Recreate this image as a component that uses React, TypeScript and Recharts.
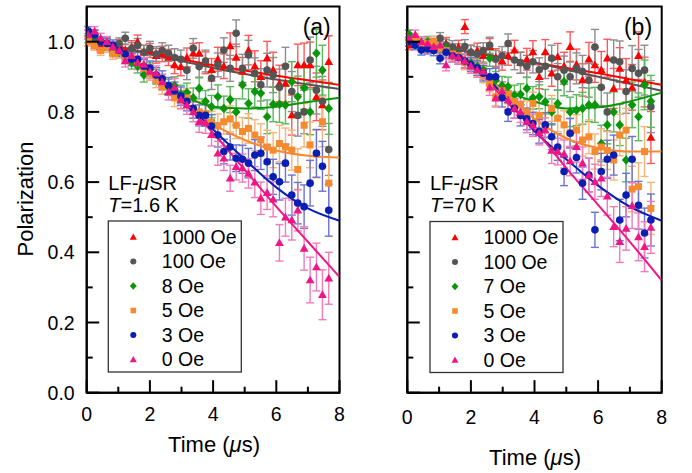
import React from 'react';
import { ComposedChart, Scatter, Line, XAxis, YAxis, ErrorBar, ReferenceArea } from 'recharts';

// time bins (μs), shared by every field in both panels
const times = [0.05, 0.25, 0.44, 0.64, 0.83, 1.03, 1.22, 1.42, 1.61, 1.81, 2.0, 2.2, 2.39, 2.59, 2.78, 2.98, 3.17, 3.37, 3.56, 3.76,
  3.95, 4.15, 4.34, 4.54, 4.73, 4.93, 5.12, 5.32, 5.51, 5.71, 5.9, 6.1, 6.29, 6.49, 6.68, 6.88, 7.07, 7.27, 7.46, 7.66];

const errA = [0.013, 0.013, 0.014, 0.015, 0.015, 0.016, 0.017, 0.018, 0.019, 0.02, 0.02, 0.021, 0.022, 0.023, 0.025, 0.026, 0.027, 0.028, 0.03, 0.031,
  0.032, 0.034, 0.035, 0.037, 0.038, 0.04, 0.042, 0.044, 0.046, 0.048, 0.05, 0.052, 0.054, 0.057, 0.059, 0.062, 0.065, 0.068, 0.071, 0.074];
const errB = [0.013, 0.013, 0.014, 0.015, 0.015, 0.016, 0.017, 0.018, 0.019, 0.02, 0.02, 0.021, 0.022, 0.023, 0.025, 0.026, 0.027, 0.028, 0.03, 0.031,
  0.032, 0.034, 0.035, 0.037, 0.038, 0.04, 0.042, 0.044, 0.046, 0.048, 0.05, 0.052, 0.054, 0.057, 0.059, 0.062, 0.065, 0.068, 0.071, 0.074];

// panel (a), T = 1.6 K
const polA1000 = [1.0, 0.99, 0.985, 0.995, 0.98, 0.99, 0.975, 0.985, 1.0, 0.97, 0.975, 0.96, 0.965, 0.955, 0.934, 0.929, 0.955, 0.967, 0.967, 0.94,
  0.92, 0.95, 0.93, 0.988, 0.955, 0.915, 0.976, 0.93, 0.9, 0.953, 0.92, 0.881, 0.881, 0.791, 0.934, 0.934, 0.934, 0.843, 0.82, 0.943];
const polA100 = [1.02, 1.01, 1.0, 0.995, 0.985, 0.995, 1.01, 0.98, 0.99, 0.97, 0.981, 0.965, 0.975, 0.967, 0.955, 0.95, 0.919, 0.981, 0.929, 0.945,
  0.896, 0.934, 0.976, 0.924, 1.024, 0.924, 0.962, 0.91, 0.877, 0.919, 0.905, 0.87, 0.93, 0.858, 0.79, 0.8, 0.948, 0.862, 0.83, 0.693];
const polA8 = [1.01, 1.02, 1.0, 0.99, 0.975, 0.97, 0.955, 0.94, 0.93, 0.905, 0.92, 0.9, 0.885, 0.87, 0.875, 0.85, 0.855, 0.84, 0.867, 0.83,
  0.815, 0.843, 0.81, 0.835, 0.8, 0.877, 0.824, 0.858, 0.853, 0.786, 0.822, 0.822, 0.82, 0.886, 0.843, 0.869, 0.8, 0.967, 0.919, 0.81];
const polA5 = [1.0, 0.99, 0.975, 0.985, 0.965, 0.97, 0.96, 0.955, 0.94, 0.925, 0.91, 0.89, 0.872, 0.875, 0.84, 0.835, 0.84, 0.81, 0.8, 0.795,
  0.77, 0.76, 0.772, 0.78, 0.762, 0.744, 0.753, 0.734, 0.72, 0.7, 0.691, 0.71, 0.7, 0.691, 0.636, 0.762, 0.706, 0.68, 0.772, 0.597];
const polA3 = [1.03, 1.02, 1.0, 0.995, 0.99, 0.975, 0.965, 0.95, 0.95, 0.93, 0.925, 0.905, 0.895, 0.875, 0.86, 0.845, 0.83, 0.81, 0.79, 0.79,
  0.76, 0.734, 0.687, 0.7, 0.668, 0.665, 0.654, 0.677, 0.682, 0.658, 0.615, 0.601, 0.654, 0.563, 0.54, 0.53, 0.597, 0.682, 0.645, 0.52];
const polA0 = [1.02, 1.03, 1.01, 1.0, 0.985, 0.975, 0.945, 0.96, 0.94, 0.935, 0.915, 0.91, 0.885, 0.857, 0.87, 0.835, 0.82, 0.8, 0.772, 0.77,
  0.735, 0.682, 0.668, 0.611, 0.644, 0.64, 0.625, 0.6, 0.554, 0.57, 0.551, 0.427, 0.5, 0.492, 0.52, 0.411, 0.321, 0.358, 0.279, 0.326];

// panel (b), T = 70 K
const polB1000 = [0.99, 1.0, 0.995, 0.985, 0.99, 0.98, 0.995, 0.975, 0.985, 1.043, 0.97, 0.975, 0.96, 0.986, 0.955, 0.945, 0.96, 0.976, 0.94, 0.95,
  0.971, 0.9, 0.971, 0.91, 0.957, 0.93, 0.986, 0.935, 0.891, 0.95, 0.934, 0.92, 0.953, 0.867, 0.924, 0.89, 0.87, 0.96, 0.885, 0.727];
const polB100 = [1.02, 1.0, 0.995, 0.99, 1.0, 1.01, 0.99, 0.985, 0.975, 0.986, 0.97, 0.965, 0.975, 0.99, 0.95, 0.96, 0.995, 0.948, 0.94, 0.93,
  0.943, 0.92, 0.93, 0.953, 0.9, 0.919, 0.9, 0.924, 0.915, 0.89, 0.985, 0.87, 0.8, 0.948, 0.943, 0.858, 0.924, 0.91, 0.919, 0.815];
const polB7 = [1.02, 1.0, 0.995, 1.0, 0.99, 0.985, 0.98, 0.965, 0.96, 0.945, 0.94, 0.93, 0.92, 0.953, 0.89, 0.875, 0.872, 0.848, 0.85, 0.867,
  0.84, 0.843, 0.829, 0.8, 0.824, 0.886, 0.8, 0.805, 0.81, 0.82, 0.82, 0.71, 0.763, 0.8, 0.763, 0.663, 0.82, 0.786, 0.877, 0.83];
const polB5 = [1.0, 1.01, 0.99, 0.995, 1.0, 0.98, 0.975, 0.965, 0.96, 0.94, 0.935, 0.92, 0.905, 0.88, 0.843, 0.86, 0.85, 0.83, 0.82, 0.8,
  0.824, 0.79, 0.76, 0.81, 0.782, 0.763, 0.74, 0.748, 0.72, 0.729, 0.687, 0.7, 0.69, 0.663, 0.734, 0.748, 0.58, 0.587, 0.687, 0.525];
const polB3 = [1.0, 0.99, 0.976, 0.98, 0.975, 0.953, 0.97, 0.96, 0.955, 0.945, 0.935, 0.925, 0.91, 0.9, 0.9, 0.84, 0.8, 0.81, 0.79, 0.78,
  0.767, 0.745, 0.763, 0.729, 0.7, 0.63, 0.739, 0.67, 0.597, 0.62, 0.464, 0.63, 0.665, 0.677, 0.492, 0.563, 0.665, 0.534, 0.455, 0.492];
const polB0 = [1.01, 1.02, 1.0, 0.995, 0.986, 0.99, 0.934, 0.96, 0.955, 0.945, 0.93, 0.92, 0.915, 0.87, 0.839, 0.86, 0.834, 0.81, 0.8, 0.772,
  0.762, 0.74, 0.748, 0.69, 0.687, 0.68, 0.66, 0.701, 0.654, 0.62, 0.601, 0.611, 0.56, 0.473, 0.43, 0.468, 0.533, 0.444, 0.416, 0.471];

// fitted curves, read at whole microseconds
const fitTimes = [0, 1, 2, 3, 4, 5, 6, 7, 8];
const fitA1000 = [1.0, 0.985, 0.967, 0.95, 0.933, 0.918, 0.903, 0.89, 0.877];
const fitA100 = [1.0, 0.985, 0.965, 0.945, 0.925, 0.908, 0.892, 0.878, 0.865];
const fitA8 = [1.0, 0.97, 0.91, 0.85, 0.815, 0.81, 0.815, 0.828, 0.84];
const fitA5 = [1.0, 0.97, 0.905, 0.83, 0.765, 0.72, 0.69, 0.675, 0.67];
const fitA3 = [1.0, 0.97, 0.91, 0.835, 0.75, 0.665, 0.585, 0.525, 0.49];
const fitA0 = [1.0, 0.97, 0.91, 0.83, 0.74, 0.635, 0.53, 0.43, 0.33];
const fitB1000 = [1.0, 0.985, 0.97, 0.955, 0.94, 0.925, 0.91, 0.893, 0.877];
const fitB100 = [1.0, 0.985, 0.97, 0.955, 0.94, 0.92, 0.9, 0.88, 0.86];
const fitB7 = [1.0, 0.98, 0.93, 0.865, 0.83, 0.81, 0.813, 0.83, 0.855];
const fitB5 = [1.0, 0.985, 0.935, 0.86, 0.78, 0.725, 0.697, 0.687, 0.687];
const fitB3 = [1.0, 0.985, 0.94, 0.85, 0.745, 0.665, 0.59, 0.53, 0.49];
const fitB0 = [1.0, 0.985, 0.94, 0.84, 0.75, 0.64, 0.535, 0.43, 0.32];

const labelsA = ['1000 Oe', '100 Oe', '8 Oe', '5 Oe', '3 Oe', '0 Oe'];
const labelsB = ['1000 Oe', '100 Oe', '7 Oe', '5 Oe', '3 Oe', '0 Oe'];
const xTicks = [0, 1, 2, 3, 4, 5, 6, 7, 8];
const yTicks = [0, 0.1, 0.2, 0.3, 0.4, 0.5, 0.6, 0.7, 0.8, 0.9, 1.0];

type Kind = 'triangle' | 'circle' | 'diamond' | 'square';
const kinds: Kind[] = ['triangle', 'circle', 'diamond', 'square', 'circle', 'triangle'];
const colors = ['#FF0000', '#555555', '#0A960A', '#F58A2E', '#0A1EB4', '#EE1585'];
const barColors = ['#FF5A5A', '#8E8E8E', '#5CB85C', '#F7B47A', '#6A74D2', '#F27BB8'];

const FONT = '"Liberation Sans", Arial, sans-serif';

function Glyph({ cx, cy, kind, color, k = 1 }: { cx?: number; cy?: number; kind: Kind; color: string; k?: number }) {
  if (cx == null || cy == null) return null;
  if (kind === 'triangle') {
    const w = 4.4 * k;
    const h = 4.4 * k;
    return <polygon points={`${cx},${cy - h} ${cx + w},${cy + h * 0.75} ${cx - w},${cy + h * 0.75}`} fill={color} />;
  }
  if (kind === 'circle') return <circle cx={cx} cy={cy} r={3.8 * k} fill={color} />;
  if (kind === 'diamond') {
    const w = 4.3 * k;
    const h = 4.8 * k;
    return <polygon points={`${cx},${cy - h} ${cx + w},${cy} ${cx},${cy + h} ${cx - w},${cy}`} fill={color} />;
  }
  const s = 3.5 * k;
  return <rect x={cx - s} y={cy - s} width={2 * s} height={2 * s} fill={color} />;
}

const makeXTick = (labelGap: number) => (props: any) => {
  const { x, y, payload } = props;
  const major = payload.value % 2 === 0;
  return (
    <g>
      <line x1={x} x2={x} y1={y} y2={y - (major ? 12.5 : 6)} stroke="#000" strokeWidth={2} />
      {major && (
        <text x={x} y={y + labelGap} textAnchor="middle" fontSize={19.5} fontFamily={FONT} fontWeight={400} fill="#000">
          {payload.value}
        </text>
      )}
    </g>
  );
};

const makeYTick = (withLabels: boolean) => (props: any) => {
  const { x, y, payload } = props;
  const major = Math.round(payload.value * 10) % 2 === 0;
  return (
    <g>
      <line x1={x} x2={x + (major ? 12.5 : 6)} y1={y} y2={y} stroke="#000" strokeWidth={2} />
      {withLabels && major && (
        <text x={x - 12} y={y + 7} textAnchor="end" fontSize={19.5} fontFamily={FONT} fontWeight={400} fill="#000">
          {payload.value.toFixed(1)}
        </text>
      )}
    </g>
  );
};

function Panel({ pols, fits, err, width, yAxisWidth, margin, yLabels, labelGap }: any) {
  return (
    <ComposedChart width={width} height={473} margin={margin}>
      <XAxis
        type="number"
        dataKey="t"
        domain={[0, 8]}
        ticks={xTicks}
        interval={0}
        allowDataOverflow
        height={30}
        tickSize={0}
        tickMargin={0}
        tickLine={false}
        axisLine={{ stroke: '#000', strokeWidth: 2 }}
        tick={makeXTick(labelGap)}
      />
      <YAxis
        type="number"
        domain={[0, 1.1]}
        ticks={yTicks}
        interval={0}
        allowDataOverflow
        width={yAxisWidth}
        tickSize={0}
        tickMargin={0}
        tickLine={false}
        axisLine={{ stroke: '#000', strokeWidth: 2 }}
        tick={makeYTick(yLabels)}
      />
      <ReferenceArea x1={0} x2={8} y1={0} y2={1.1} fill="none" fillOpacity={0} stroke="#000" strokeWidth={2} />
      {pols.map((vals: number[], s: number) => (
        <Scatter
          key={`pts${s}`}
          data={times.map((t, i) => ({ t, p: vals[i], e: err[i] }))}
          dataKey="p"
          isAnimationActive={false}
          shape={(p: any) => <Glyph cx={p.cx} cy={p.cy} kind={kinds[s]} color={colors[s]} />}
        >
          <ErrorBar dataKey="e" direction="y" width={4} stroke={barColors[s]} strokeWidth={1.4} isAnimationActive={false} />
        </Scatter>
      ))}
      {fits.map((vals: number[], s: number) => (
        <Line
          key={`fit${s}`}
          data={fitTimes.map((t, i) => ({ t, p: vals[i] }))}
          dataKey="p"
          type="monotone"
          stroke={colors[s]}
          strokeWidth={2}
          dot={false}
          activeDot={false}
          isAnimationActive={false}
        />
      ))}
    </ComposedChart>
  );
}

function Legend({ x, y, labels }: { x: number; y: number; labels: string[] }) {
  return (
    <g>
      <rect x={x} y={y} width={133} height={151} fill="#fff" stroke="#333" strokeWidth={1.3} />
      {labels.map((lab, i) => (
        <g key={lab}>
          <Glyph cx={x + 25} cy={y + 16 + i * 24.5} kind={kinds[i]} color={colors[i]} k={0.8} />
          <text x={x + 53.5} y={y + 22.8 + i * 24.5} fontSize={19.5}>
            {lab}
          </text>
        </g>
      ))}
    </g>
  );
}

export default function App() {
  return (
    <div style={{ position: 'absolute', left: 0, top: 0, width: 692, height: 473, background: '#fff', fontFamily: FONT }}>
      <div style={{ position: 'absolute', left: 0, top: 0 }}>
        <Panel
          pols={[polA1000, polA100, polA8, polA5, polA3, polA0]}
          fits={[fitA1000, fitA100, fitA8, fitA5, fitA3, fitA0]}
          err={errA}
          width={350}
          yAxisWidth={60}
          margin={{ top: 6.6, right: 10.5, bottom: 50.3, left: 26.7 }}
          yLabels
          labelGap={28}
        />
      </div>
      <div style={{ position: 'absolute', left: 350, top: 0 }}>
        <Panel
          pols={[polB1000, polB100, polB7, polB5, polB3, polB0]}
          fits={[fitB1000, fitB100, fitB7, fitB5, fitB3, fitB0]}
          err={errB}
          width={342}
          yAxisWidth={40}
          margin={{ top: 6.6, right: 30.3, bottom: 50.3, left: 17.3 }}
          yLabels={false}
          labelGap={31}
        />
      </div>
      <svg
        width={692}
        height={473}
        style={{ position: 'absolute', left: 0, top: 0, pointerEvents: 'none' }}
        fontFamily={FONT}
        fontWeight={400}
        fill="#000"
      >
        <text transform="translate(33,199) rotate(-90)" textAnchor="middle" fontSize={22}>Polarization</text>
        <text x={214} y={451.5} textAnchor="middle" fontSize={22}>
          Time (<tspan fontStyle="italic">μ</tspan>s)
        </text>
        <text x={535} y={465} textAnchor="middle" fontSize={22}>
          Time (<tspan fontStyle="italic">μ</tspan>s)
        </text>
        <text x={316.7} y={35.2} textAnchor="middle" fontSize={23}>(a)</text>
        <text x={638} y={35.2} textAnchor="middle" fontSize={23}>(b)</text>
        <text x={108.3} y={190.2} fontSize={20}>LF-<tspan fontStyle="italic">μ</tspan>SR</text>
        <text x={108.3} y={212.2} fontSize={20}><tspan fontStyle="italic">T</tspan>=1.6 K</text>
        <text x={430} y={190.2} fontSize={20}>LF-<tspan fontStyle="italic">μ</tspan>SR</text>
        <text x={430} y={212.2} fontSize={20}><tspan fontStyle="italic">T</tspan>=70 K</text>
        <Legend x={108.3} y={221} labels={labelsA} />
        <Legend x={430} y={221.5} labels={labelsB} />
      </svg>
    </div>
  );
}
